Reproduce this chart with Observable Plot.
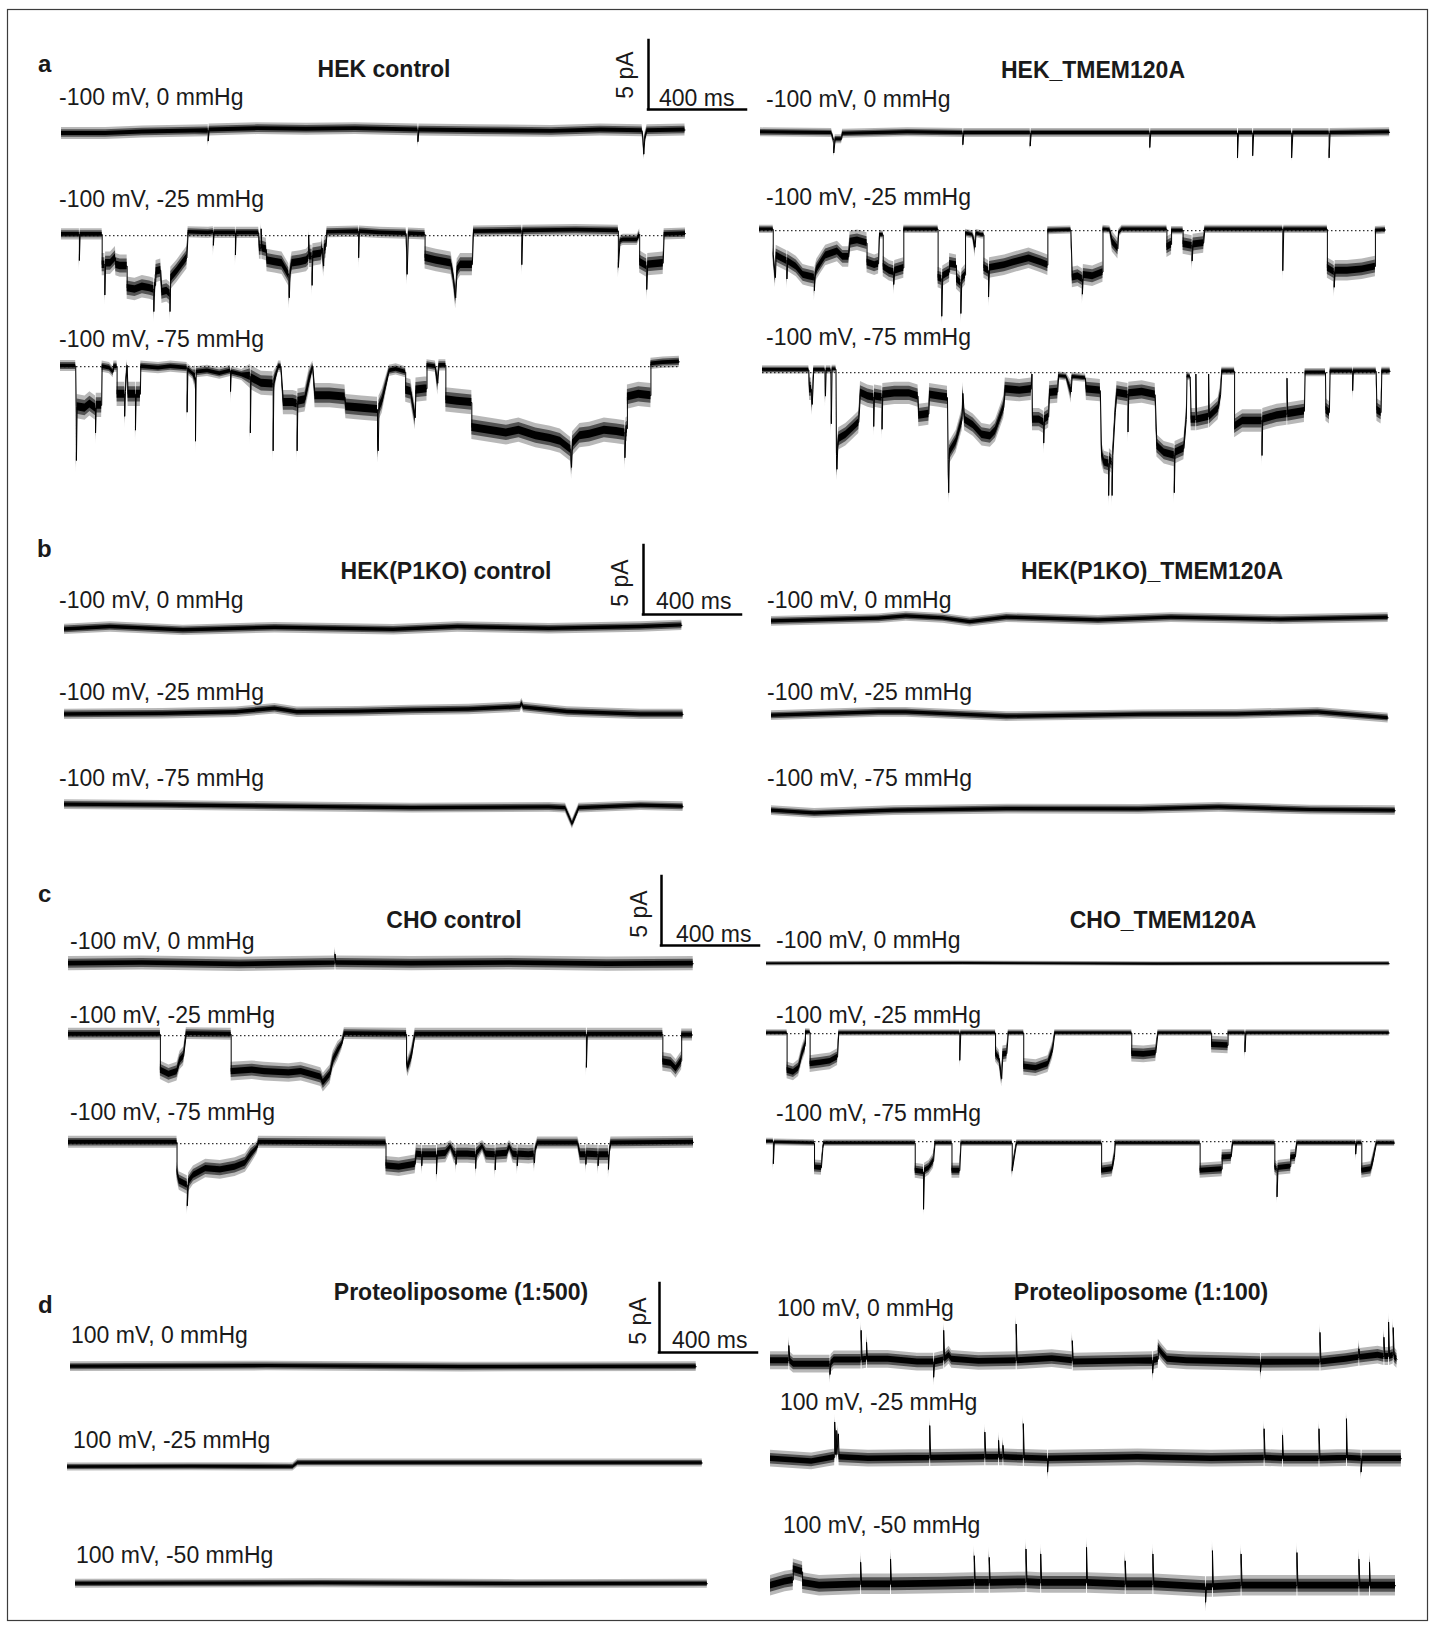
<!DOCTYPE html>
<html><head><meta charset="utf-8">
<script src="https://cdn.jsdelivr.net/npm/d3@7"></script>
<script src="https://cdn.jsdelivr.net/npm/@observablehq/plot@0.6"></script>
<style>
body{margin:0;background:#fff;}
#fig{position:relative;width:1435px;height:1628px;background:#fff;}
</style></head><body><div id="fig"></div>
<script>
// ---------------- DATA (time in ms, current in pA) ----------------
const letters = ["a","b","c","d"];
const titles = ["HEK control","HEK_TMEM120A","HEK(P1KO) control","HEK(P1KO)_TMEM120A","CHO control","CHO_TMEM120A","Proteoliposome (1:500)","Proteoliposome (1:100)"];
const condNeg = ["-100 mV, 0 mmHg","-100 mV, -25 mmHg","-100 mV, -75 mmHg"];
const condPos = ["100 mV, 0 mmHg","100 mV, -25 mmHg","100 mV, -50 mmHg"];
const scaleBarMs = 400, scaleBarPa = 5;
const scaleTexts = ["5 pA","400 ms"];

// panel a, HEK control
const aL0 = [[0,-0.2],[180,-0.2],[330,-0.1],[599,0.0],[599,-0.75],[603,0.05],[800,0.15],[1000,0.1],[1200,0.15],[1455,0.05],[1455,-0.8],[1459,0.05],[1700,0.0],[2000,-0.05],[2200,0.05],[2370,0.0],[2374,-0.6],[2377,-1.7],[2381,-0.6],[2390,0.0],[2545,0.05]];
const aL1 = [[0,0.1],[73,0.1],[73,-1.8],[76,0.1],[166,0.1],[166,-2.1],[177,-2.1],[177,-4.3],[180,-2.0],[200,-2.0],[220,-1.6],[222,-2.1],[240,-2.2],[268,-2.2],[268,-3.8],[300,-3.9],[330,-3.7],[360,-3.8],[377,-3.9],[377,-5.5],[380,-3.7],[384,-3.6],[386,-2.6],[405,-2.5],[410,-4.1],[430,-4.0],[443,-4.2],[443,-5.5],[446,-3.1],[470,-2.6],[495,-2.0],[512,-1.6],[517,0.25],[600,0.2],[620,0.25],[620,-0.7],[623,0.2],[710,0.2],[710,-1.4],[713,0.2],[805,0.2],[808,-0.9],[815,-0.9],[815,0.5],[818,-0.9],[836,-1.0],[839,-1.8],[870,-1.9],[900,-2.0],[928,-2.85],[930,-4.5],[933,-2.8],[941,-2.0],[975,-1.9],[1000,-1.8],[1009,-1.6],[1009,0.05],[1012,-1.5],[1023,-1.5],[1023,-3.6],[1026,-1.4],[1060,-1.3],[1065,-0.9],[1070,-2.2],[1073,-0.9],[1080,-0.8],[1084,0.25],[1213,0.3],[1213,-1.6],[1216,0.3],[1300,0.2],[1407,0.15],[1411,-2.8],[1416,0.15],[1484,0.1],[1484,-1.6],[1530,-1.8],[1590,-2.0],[1600,-3.0],[1609,-4.5],[1615,-2.5],[1629,-2.1],[1677,-2.1],[1682,0.3],[1879,0.35],[1879,-2.1],[1883,0.35],[2100,0.4],[2273,0.35],[2273,-2.3],[2280,-0.4],[2293,-0.3],[2350,-0.3],[2360,0.1],[2360,-1.9],[2389,-2.2],[2389,-3.9],[2393,-2.1],[2456,-2.0],[2460,0.1],[2547,0.15]];
const aL2 = [[0,0.05],[62,0.05],[64,-2.9],[65,-6.8],[68,-2.9],[100,-3.0],[120,-2.7],[143,-3.0],[143,-4.8],[146,-2.8],[168,-2.8],[170,0.0],[200,-0.1],[215,-0.4],[218,0.0],[231,0.0],[231,-2.0],[262,-2.0],[262,-3.6],[265,-1.8],[272,0.1],[276,-2.0],[306,-2.0],[306,-4.6],[309,-2.0],[326,-2.0],[328,0.0],[400,-0.1],[450,0.0],[517,-0.1],[517,-3.3],[520,-0.2],[540,-0.5],[551,-0.8],[551,-5.4],[554,-0.4],[600,-0.3],[650,-0.5],[694,-0.3],[694,-1.8],[697,-0.4],[740,-0.6],[775,-0.7],[775,-4.8],[778,-0.8],[820,-1.2],[868,-1.25],[868,-6.1],[871,-1.2],[885,-0.3],[890,0.0],[900,0.0],[910,-2.6],[950,-2.6],[966,-2.7],[966,-6.1],[969,-2.5],[998,-2.4],[1015,-1.0],[1030,0.0],[1039,-2.1],[1100,-2.1],[1161,-2.2],[1165,-2.9],[1230,-3.0],[1294,-3.1],[1294,-5.1],[1297,-6.1],[1300,-3.0],[1313,-2.5],[1342,-0.3],[1370,-0.2],[1409,-0.4],[1409,-1.7],[1430,-1.8],[1448,-3.7],[1451,-1.7],[1496,-1.6],[1496,0.1],[1530,0],[1540,-1.2],[1545,0.1],[1573,0.1],[1573,-2.4],[1620,-2.5],[1679,-2.6],[1679,-4.4],[1750,-4.6],[1820,-4.8],[1871,-4.6],[1940,-5.0],[2000,-5.2],[2040,-5.4],[2083,-6.0],[2086,-7.3],[2090,-5.6],[2120,-5.0],[2160,-4.9],[2220,-4.6],[2270,-4.7],[2304,-4.8],[2304,-6.6],[2308,-4.6],[2314,-4.5],[2314,-2.2],[2360,-2.0],[2410,-2.1],[2410,0.2],[2460,0.3],[2526,0.35]];
// panel a, HEK_TMEM120A
const aR0 = [[0,0.1],[290,0.05],[299,-0.5],[299,-1.4],[305,-0.4],[331,-0.4],[335,0.0],[600,0.1],[826,0.05],[826,-0.8],[830,0.05],[1101,0.05],[1101,-0.9],[1105,0.05],[1589,0.05],[1589,-1.0],[1593,0.05],[1947,0.05],[1947,-1.75],[1951,0.05],[2009,0.05],[2009,-1.6],[2013,0.05],[2168,0.05],[2168,-1.75],[2173,0.05],[2321,0.05],[2321,-1.75],[2325,0.05],[2568,0.1]];
const aR1 = [[0,0.1],[56,0.1],[56,-1.7],[65,-3.4],[68,-1.8],[90,-2.0],[112,-2.2],[112,-3.5],[115,-2.2],[150,-2.6],[178,-3.2],[200,-3.3],[224,-3.4],[224,-4.35],[227,-3.3],[234,-2.8],[270,-1.8],[318,-1.5],[340,-1.9],[364,-1.9],[370,-0.8],[400,-0.7],[439,-0.9],[439,-2.3],[470,-2.5],[486,-2.4],[490,-0.3],[505,-0.3],[505,-2.6],[530,-2.9],[548,-3.0],[548,-3.9],[552,-2.9],[589,-2.7],[589,0.1],[729,0.1],[729,-3.4],[744,-3.5],[744,-6.2],[748,-3.3],[776,-3.0],[776,-2.4],[804,-2.5],[804,-3.5],[822,-3.8],[822,-6.0],[826,-3.5],[841,-3.2],[841,-0.2],[870,-0.3],[880,-1.2],[884,-0.2],[906,-0.3],[916,-0.3],[916,-2.7],[935,-2.9],[935,-4.8],[939,-2.7],[1000,-2.5],[1037,-2.3],[1100,-2.0],[1149,-2.3],[1177,-2.5],[1177,0.0],[1271,0.05],[1277,-3.4],[1300,-3.3],[1318,-3.5],[1318,-4.6],[1322,-3.2],[1360,-3.3],[1402,-3.0],[1402,0.1],[1430,0.05],[1440,-0.8],[1463,-1.3],[1466,-0.2],[1480,0.1],[1663,0.1],[1663,-1.2],[1682,-1.0],[1682,0.0],[1729,0.0],[1729,-0.97],[1766,-1.1],[1766,-2.2],[1770,-1.0],[1813,-0.9],[1818,0.1],[2136,0.1],[2136,-2.9],[2140,0.1],[2318,0.1],[2318,-2.7],[2346,-3.0],[2346,-4.1],[2350,-2.9],[2400,-2.9],[2460,-2.8],[2514,-2.6],[2514,0.0],[2555,0.05]];
const aR2 = [[0,0.2],[189,0.2],[192,-1.2],[200,-1.2],[203,-2.3],[206,-1.2],[209,0.2],[255,0.2],[257,-1.7],[260,0.2],[279,0.2],[281,-3.7],[284,0.25],[300,0.25],[302,-6.0],[304,-7.0],[307,-5.5],[311,-4.8],[340,-4.5],[370,-4.0],[393,-3.6],[400,-1.45],[430,-1.7],[454,-1.8],[454,-3.9],[457,-1.7],[488,-1.8],[488,-4.1],[491,-1.6],[540,-1.5],[600,-1.5],[635,-1.7],[638,-3.1],[679,-3.0],[682,-1.6],[720,-1.7],[755,-1.8],[758,-6.3],[760,-8.7],[763,-5.8],[790,-5.0],[815,-3.4],[818,-1.5],[825,-3.4],[860,-3.8],[896,-4.5],[930,-4.6],[951,-4.2],[985,-2.5],[991,-1.2],[1050,-1.3],[1097,-1.2],[1100,-0.1],[1102,-3.4],[1130,-3.4],[1148,-3.6],[1148,-5.1],[1151,-3.4],[1168,-3.2],[1172,-1.45],[1205,-1.4],[1209,-0.24],[1240,-0.3],[1260,-1.4],[1264,-0.3],[1318,-0.4],[1322,-1.2],[1379,-1.3],[1384,-5.8],[1395,-6.5],[1413,-6.6],[1413,-8.9],[1416,-6.3],[1427,-6.5],[1427,-8.9],[1430,-6.0],[1440,-2.9],[1447,-1.45],[1492,-1.6],[1492,-4.3],[1495,-1.5],[1550,-1.4],[1603,-1.6],[1610,-5.3],[1640,-5.8],[1681,-6.0],[1681,-8.7],[1684,-5.8],[1720,-5.5],[1730,-3.4],[1733,-0.24],[1746,-0.3],[1750,-3.4],[1769,-3.4],[1769,-0.1],[1772,-3.4],[1821,-3.2],[1821,-0.1],[1824,-3.2],[1860,-2.6],[1870,-1.6],[1875,0.1],[1927,0.1],[1927,-3.9],[1960,-3.5],[2000,-3.5],[2039,-3.5],[2039,-6.0],[2042,-3.4],[2100,-3.1],[2141,-3.0],[2141,-0.4],[2144,-3.0],[2212,-2.8],[2215,0.0],[2298,0.0],[2300,-2.7],[2314,-2.9],[2317,0.1],[2409,0.1],[2409,-1.3],[2412,0.1],[2505,0.1],[2508,-2.7],[2525,-2.9],[2528,0.1],[2562,0.1]];
// panel b
const bL0 = [[0,-0.05],[187,0.12],[485,-0.12],[859,0.07],[1100,0.0],[1344,-0.07],[1606,0.12],[1979,0.0],[2352,0.12],[2520,0.24]];
const bL1 = [[0,-0.05],[400,0.0],[700,0.1],[859,0.36],[950,0.1],[1200,0.15],[1419,0.24],[1650,0.3],[1860,0.48],[1867,0.72],[1874,0.45],[2053,0.12],[2352,-0.05],[2525,-0.05]];
const bL2 = [[0,0.15],[400,0.1],[859,0.0],[1419,-0.1],[1979,-0.05],[2045,-0.1],[2073,-1.26],[2100,-0.1],[2352,0.07],[2525,0.0]];
const bR0 = [[0,-0.12],[438,0.07],[550,0.24],[700,0.1],[811,-0.17],[960,0.15],[1334,-0.05],[1632,0.15],[2080,0.0],[2517,0.15]];
const bR1 = [[0,0.0],[438,0.24],[550,0.24],[960,-0.07],[1517,0.07],[1900,0.1],[2230,0.24],[2517,-0.17]];
const bR2 = [[0,0.0],[176,-0.2],[500,0.0],[960,0.12],[1500,0.1],[1827,0.24],[2200,0.05],[2546,0.0]];
// panel c
const cL0 = [[0,0.0],[300,0.05],[700,-0.05],[1088,0.05],[1088,0.7],[1092,0.05],[1400,0.0],[1800,0.05],[2200,-0.03],[2550,0.0]];
const cL1 = [[0,0.1],[375,0.1],[375,-2.5],[410,-2.8],[443,-2.6],[455,-1.8],[470,-1.5],[481,0.15],[664,0.1],[664,-2.6],[750,-2.5],[800,-2.6],[900,-2.7],[950,-2.6],[991,-2.8],[1030,-3.0],[1040,-3.4],[1068,-2.8],[1080,-1.8],[1100,-1.1],[1116,-0.6],[1126,0.15],[1380,0.1],[1380,-1.8],[1385,-2.3],[1400,-1.5],[1415,0.1],[2114,0.1],[2114,-2.3],[2118,0.1],[2426,0.1],[2426,-1.9],[2460,-2.0],[2480,-2.4],[2503,-1.8],[2503,0.05],[2547,0.05]];
const cL2 = [[0,0.1],[443,0.1],[443,-2.0],[452,-2.7],[485,-3.0],[485,-4.5],[490,-2.8],[510,-2.3],[560,-1.8],[620,-1.9],[680,-1.7],[722,-1.4],[745,-0.8],[770,-0.3],[776,0.1],[1296,0.05],[1296,-1.6],[1350,-1.7],[1415,-1.5],[1420,-0.75],[1442,-0.8],[1442,-1.6],[1445,-0.8],[1502,-0.8],[1502,-2.2],[1506,-0.75],[1540,-0.7],[1560,-0.2],[1575,-0.75],[1582,-0.8],[1582,-1.5],[1585,-0.75],[1630,-0.75],[1662,-0.8],[1662,-1.8],[1665,-0.75],[1690,-0.2],[1705,-0.75],[1742,-0.8],[1742,-1.9],[1745,-0.75],[1790,-0.7],[1800,-0.2],[1815,-0.75],[1832,-0.8],[1832,-1.6],[1835,-0.75],[1880,-0.8],[1900,-0.75],[1902,-1.4],[1905,-0.5],[1915,0.05],[2079,0.05],[2089,-0.8],[2112,-0.8],[2112,-1.5],[2115,-0.75],[2162,-0.8],[2162,-1.6],[2165,-0.8],[2204,-0.8],[2204,-1.86],[2208,-0.6],[2214,0.05],[2551,0.1]];
const cR0 = [[0,0.0],[800,0.03],[1600,-0.02],[2542,0.0]];
const cR1 = [[0,0.05],[84,0.05],[84,-2.66],[110,-2.8],[131,-2.5],[145,-1.5],[159,-0.8],[159,0.12],[178,0.1],[178,-2.2],[220,-2.1],[260,-2.0],[290,-1.7],[295,0.05],[789,0.05],[789,-1.93],[793,0.05],[935,0.05],[935,-1.45],[950,-1.8],[960,-3.26],[965,-1.5],[981,-1.45],[987,0.05],[1050,0.05],[1050,-2.4],[1100,-2.5],[1149,-2.2],[1168,-1.2],[1177,0.05],[1491,0.05],[1491,-1.45],[1540,-1.5],[1589,-1.4],[1598,0.05],[1817,0.05],[1817,-0.8],[1884,-0.85],[1884,0.05],[1953,0.05],[1953,-1.33],[1957,0.05],[2542,0.05]];
const cR2 = [[0,0],[28,0],[28,-1.6],[32,-0.05],[196,-0.1],[196,-1.86],[224,-1.9],[230,-0.5],[234,-0.1],[607,-0.1],[607,-2.1],[641,-2.2],[641,-4.9],[645,-2.1],[663,-1.9],[682,-1.38],[688,-0.1],[757,-0.1],[757,-2.1],[789,-2.1],[794,-0.1],[1003,-0.1],[1003,-2.1],[1019,-0.3],[1022,-0.1],[1368,-0.1],[1368,-2.1],[1411,-2.0],[1420,-1.14],[1424,-0.1],[1770,-0.1],[1770,-2.1],[1860,-2.0],[1860,-1.14],[1897,-1.1],[1903,-0.1],[2075,-0.1],[2075,-1.86],[2084,-2.0],[2084,-4.0],[2088,-1.9],[2140,-1.8],[2140,-1.14],[2159,-1.1],[2165,-0.1],[2405,-0.1],[2405,-0.9],[2409,-0.1],[2430,-0.1],[2430,-2.1],[2467,-2.0],[2476,-1.38],[2490,-0.1],[2564,-0.1]];
// panel d
const dL0 = [[0,0.0],[800,0.05],[1600,-0.03],[2554,0.0]];
const dL1 = [[0,-0.24],[500,-0.22],[920,-0.24],[940,0.05],[1600,0.05],[2591,0.05]];
const dL2 = [[0,0.0],[1000,0.03],[1800,-0.03],[2579,0.0]];
const dR0 = [[0,0.0],[75,0.0],[75,1.1],[79,0.0],[94,-0.25],[243,-0.25],[243,-1.0],[247,-0.2],[260,0.05],[370,0.05],[370,2.2],[374,0.05],[392,0.1],[392,1.33],[396,0.1],[480,0.1],[600,-0.1],[666,-0.1],[666,-1.2],[670,-0.1],[707,0.05],[707,2.2],[711,0.1],[729,0.4],[740,0.1],[850,-0.05],[1003,0.0],[1003,2.66],[1007,0.0],[1150,0.15],[1232,0.0],[1232,1.45],[1236,-0.1],[1400,-0.05],[1560,0.0],[1560,-0.9],[1564,0.0],[1583,0.1],[1583,0.9],[1600,0.5],[1620,0.1],[1700,0.0],[2000,-0.12],[2000,-0.8],[2004,-0.12],[2243,-0.1],[2243,2.05],[2247,-0.1],[2350,0.1],[2402,0.24],[2402,0.85],[2406,0.24],[2480,0.4],[2504,0.3],[2504,1.7],[2508,0.3],[2523,0.3],[2523,2.8],[2527,0.3],[2542,0.4],[2542,2.4],[2546,0.3],[2557,0.1]];
const dR1 = [[0,0.0],[168,-0.2],[230,0.0],[262,0.1],[262,2.66],[265,0.3],[268,2.05],[271,0.3],[277,1.8],[280,0.1],[400,0.0],[650,0.05],[650,2.4],[654,0.05],[875,0.1],[875,1.93],[879,0.1],[931,0.1],[931,1.33],[935,0.1],[949,0.1],[949,0.97],[953,0.1],[1032,0.05],[1032,2.54],[1036,0.05],[1131,0.0],[1131,-0.97],[1135,0.0],[1500,0.1],[1800,0.0],[2015,0.05],[2015,2.17],[2019,0.05],[2090,0.0],[2090,1.7],[2094,0.0],[2239,0.0],[2239,2.17],[2243,0.0],[2351,0.05],[2351,2.9],[2355,0.05],[2411,0.0],[2411,-0.97],[2415,0.0],[2575,0.0]];
const dR2 = [[0,0.0],[60,0.3],[93,0.4],[93,1.2],[131,1.0],[131,0.2],[200,0.0],[368,0.1],[368,1.7],[372,0.1],[490,0.1],[490,1.93],[494,0.1],[700,0.15],[832,0.2],[832,2.17],[836,0.2],[893,0.2],[893,2.05],[897,0.2],[1043,0.25],[1043,2.66],[1047,0.25],[1103,0.2],[1103,2.3],[1107,0.2],[1290,0.2],[1290,2.78],[1294,0.2],[1448,0.1],[1448,1.8],[1452,0.1],[1561,0.1],[1561,2.3],[1565,0.1],[1776,-0.1],[1776,-1.2],[1780,-0.1],[1804,-0.1],[1804,2.54],[1808,-0.1],[1921,0.0],[1921,2.3],[1925,0.0],[2149,0.0],[2149,2.4],[2153,0.0],[2402,0.0],[2402,1.93],[2406,0.0],[2445,0.0],[2445,1.7],[2449,0.0],[2551,0.0]];

const traceData = [aL0,aL1,aL2,aR0,aR1,aR2,bL0,bL1,bL2,bR0,bR1,bR2,cL0,cL1,cL2,cR0,cR1,cR2,dL0,dL1,dL2,dR0,dR1,dR2];
// noise half-width (pA) at closed and open levels
const noiseClosed = [0.32,0.3,0.3,0.24,0.22,0.22, 0.28,0.28,0.26,0.26,0.26,0.26, 0.38,0.32,0.32,0.12,0.18,0.18, 0.26,0.22,0.24,0.48,0.45,0.55];
const noiseOpen   = [0.32,0.6,0.65,0.24,0.55,0.6, 0.28,0.28,0.26,0.26,0.26,0.26, 0.38,0.5,0.5,0.12,0.45,0.4, 0.26,0.22,0.24,0.48,0.45,0.55];
const hasBaseline = [false,true,true,false,true,true, false,false,false,false,false,false, false,true,true,false,true,true, false,false,false,false,false,false];

// ---------------- LAYOUT (pixels) ----------------
const PX = 0.245, PY = 13.8;          // px per ms, px per pA
const Y_DOMAIN = [-10, 4];
const BAND_LAYERS = [[1.35, 0.28], [0.85, 0.55], [0.45, 1]];
const traceLayout = [[61,130],[61,235],[60,366],[760,133],[759,230],[762,372],
  [64,628],[64,713],[64,806],[771,619],[771,715],[771,810],
  [68,963],[68,1035],[68,1143],[766,963],[766,1033],[766,1141],
  [70,1366],[67,1463],[75,1583],[770,1360],[770,1458],[770,1585]];
const labelLayout = [[59,105],[59,207],[59,347],[766,107],[766,205],[766,345],
  [59,608],[59,700],[59,786],[767,608],[767,700],[767,786],
  [70,949],[70,1023],[70,1120],[776,948],[776,1023],[776,1121],
  [71,1343],[73,1448],[76,1563],[777,1316],[780,1410],[783,1533]];
const titleLayout = [[384,77],[1093,78],[446,579],[1152,579],[454,928],[1163,928],[461,1300],[1141,1300]];
const letterLayout = [[38,72],[37,557],[38,902],[38,1313]];
const barLayout = [[648,109],[643,614],[661,945],[659,1352]];
const barPaLayout = [[633,75],[628,583],[647,914],[646,1321]];
const barMsLayout = [[659,106],[656,609],[676,942],[672,1348]];
const FONT = "'Liberation Sans', Arial, Helvetica, sans-serif";

const fig = document.getElementById("fig");
function place(svg, left, top) {
  Object.assign(svg.style, {position:"absolute", left: left+"px", top: top+"px", overflow:"visible", background:"transparent", maxWidth:"none"});
  fig.appendChild(svg);
}

traceData.forEach((pts, i) => {
  const T = pts[pts.length-1][0];
  const [x0, y0] = traceLayout[i];
  const nC = noiseClosed[i], nO = noiseOpen[i];
  const nz = d => Math.abs(d[1]) >= 0.7 ? nO : nC;
  const marks = [];
  if (hasBaseline[i]) marks.push(Plot.ruleY([0], {x1: 0, x2: T, stroke: "#333", strokeWidth: 1.2, strokeDasharray: "1.5,2.5"}));
  BAND_LAYERS.forEach(([k, op]) => marks.push(Plot.areaY(pts, {
    x: d => d[0], y1: d => d[1] - k*nz(d), y2: d => d[1] + k*nz(d), fill: "#000", fillOpacity: op, curve: "linear"})));
  marks.push(Plot.line(pts, {x: d => d[0], y: d => d[1], stroke: "#000", strokeWidth: 1, curve: "linear"}));
  const svg = Plot.plot({
    width: T*PX, height: (Y_DOMAIN[1]-Y_DOMAIN[0])*PY, margin: 0,
    x: {domain: [0, T], axis: null}, y: {domain: Y_DOMAIN, axis: null}, marks
  });
  place(svg, x0, y0 - Y_DOMAIN[1]*PY);
});

barLayout.forEach(([cx, cy]) => {
  const m = 3;
  const svg = Plot.plot({
    width: scaleBarMs*PX + 2*m, height: scaleBarPa*PY + 2*m, margin: m,
    x: {domain: [0, scaleBarMs], axis: null}, y: {domain: [0, scaleBarPa], axis: null},
    marks: [
      Plot.ruleX([0], {y1: 0, y2: scaleBarPa, stroke: "#000", strokeWidth: 2.5, strokeLinecap: "square"}),
      Plot.ruleY([0], {x1: 0, x2: scaleBarMs, stroke: "#000", strokeWidth: 2.5, strokeLinecap: "square"})
    ]
  });
  place(svg, cx - m, cy - scaleBarPa*PY - m);
});

// text + frame overlay
const ov = d3.create("svg").attr("width",1435).attr("height",1628)
  .style("position","absolute").style("left","0px").style("top","0px").style("overflow","visible")
  .attr("font-family", FONT).attr("fill", "#1a1a1a");
ov.append("rect").attr("x",7.5).attr("y",9.5).attr("width",1420).attr("height",1611)
  .attr("fill","none").attr("stroke","#3c3c3c").attr("stroke-width",1.2);
letters.forEach((t,i) => ov.append("text").attr("x",letterLayout[i][0]).attr("y",letterLayout[i][1])
  .attr("font-size",24).attr("font-weight","bold").text(t));
titles.forEach((t,i) => ov.append("text").attr("x",titleLayout[i][0]).attr("y",titleLayout[i][1])
  .attr("font-size",23).attr("font-weight","bold").attr("text-anchor","middle").text(t));
labelLayout.forEach(([x,y],i) => {
  const cond = i < 18 ? condNeg : condPos;
  ov.append("text").attr("x",x).attr("y",y).attr("font-size",23).text(cond[i % 3]);
});
barPaLayout.forEach(([x,y]) => ov.append("text").attr("transform",`translate(${x},${y}) rotate(-90)`)
  .attr("font-size",23).attr("text-anchor","middle").text(scaleTexts[0]));
barMsLayout.forEach(([x,y]) => ov.append("text").attr("x",x).attr("y",y).attr("font-size",23).text(scaleTexts[1]));
fig.appendChild(ov.node());
</script></body></html>
